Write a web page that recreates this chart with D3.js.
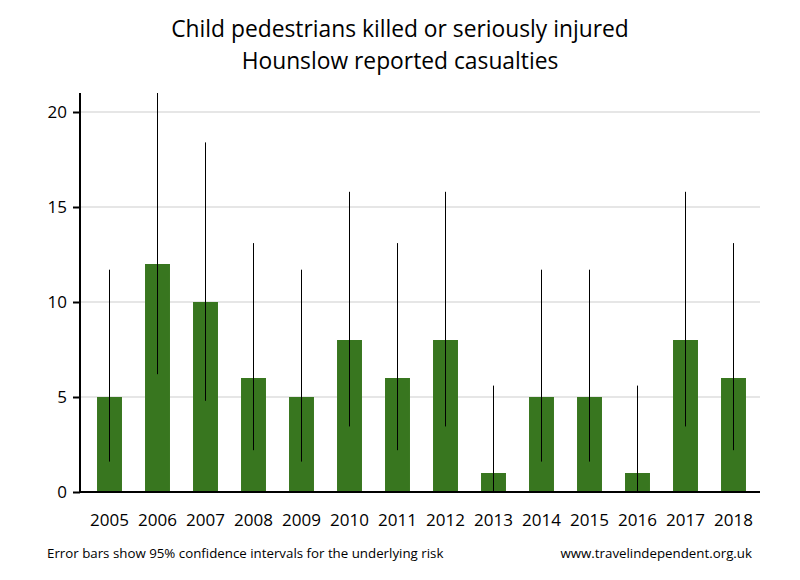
<!DOCTYPE html>
<html><head><meta charset="utf-8">
<script src="https://cdn.jsdelivr.net/npm/d3@7/dist/d3.min.js"></script>
<style>body{margin:0;background:#fff}svg{display:block}</style>
</head><body>
<svg id="c" width="800" height="580"></svg>
<script>
const years = ["2005","2006","2007","2008","2009","2010","2011","2012","2013","2014","2015","2016","2017","2018"];
const casualties = [5,12,10,6,5,8,6,8,1,5,5,1,8,6];
const ciLow  = [1.6,6.2,4.8,2.2,1.6,3.45,2.2,3.45,0.03,1.6,1.6,0.03,3.45,2.2];
const ciHigh = [11.7,21.0,18.4,13.1,11.7,15.8,13.1,15.8,5.6,11.7,11.7,5.6,15.8,13.1];
const yTicks = [0,5,10,15,20];
const titleLines = ["Child pedestrians killed or seriously injured","Hounslow reported casualties"];
const footLeft = "Error bars show 95% confidence intervals for the underlying risk";
const footRight = "www.travelindependent.org.uk";

const svg = d3.select("#c");
const font = "'Open Sans', sans-serif";
const x = d3.scaleBand().domain(years).range([85.5,757.5]).paddingInner(0.48).paddingOuter(0.24);
const y = d3.scaleLinear().domain([0,21]).range([492,93]);

// gridlines
svg.append("g").selectAll("line").data(yTicks.filter(d=>d>0)).join("line")
  .attr("x1",80).attr("x2",760).attr("y1",d=>y(d)).attr("y2",d=>y(d))
  .attr("stroke","#e6e6e6").attr("stroke-width",2);

// bars
svg.append("g").selectAll("rect").data(casualties).join("rect")
  .attr("x",(d,i)=>x(years[i])).attr("width",x.bandwidth())
  .attr("y",d=>y(d)).attr("height",d=>y(0)-y(d)).attr("fill","#38761f");

// error bars
svg.append("g").selectAll("line").data(years).join("line")
  .attr("x1",d=>x(d)+x.bandwidth()/2).attr("x2",d=>x(d)+x.bandwidth()/2)
  .attr("y1",(d,i)=>y(ciLow[i])).attr("y2",(d,i)=>y(ciHigh[i]))
  .attr("stroke","#000").attr("stroke-width",1);

// y axis
const ya = svg.append("g").attr("transform","translate(80,0)")
  .call(d3.axisLeft(y).tickValues(yTicks).tickSize(7).tickPadding(6).tickSizeOuter(0));
ya.select(".domain").attr("stroke-width",2).attr("d","M0,93V493");
ya.selectAll(".tick line").attr("stroke-width",2);
ya.selectAll("text").attr("font-family",font).attr("font-size",17).attr("fill","#000");

// x axis
const xa = svg.append("g").attr("transform","translate(0,492)")
  .call(d3.axisBottom(x).tickSize(0).tickPadding(22));
xa.select(".domain").attr("stroke-width",2).attr("d","M79,0H760");
xa.selectAll("text").attr("font-family",font).attr("font-size",17).attr("fill","#000");

// titles
svg.append("g").selectAll("text").data(titleLines).join("text")
  .attr("x",400).attr("y",(d,i)=>37+i*32).attr("text-anchor","middle")
  .attr("font-family",font).attr("font-size",22.8).attr("fill","#000").text(d=>d);

svg.append("text").attr("x",47).attr("y",558).attr("font-family",font)
  .attr("font-size",13.3).attr("fill","#000").text(footLeft);
svg.append("text").attr("x",752).attr("y",558).attr("text-anchor","end").attr("font-family",font)
  .attr("font-size",13.3).attr("fill","#000").text(footRight);
</script>
</body></html>
